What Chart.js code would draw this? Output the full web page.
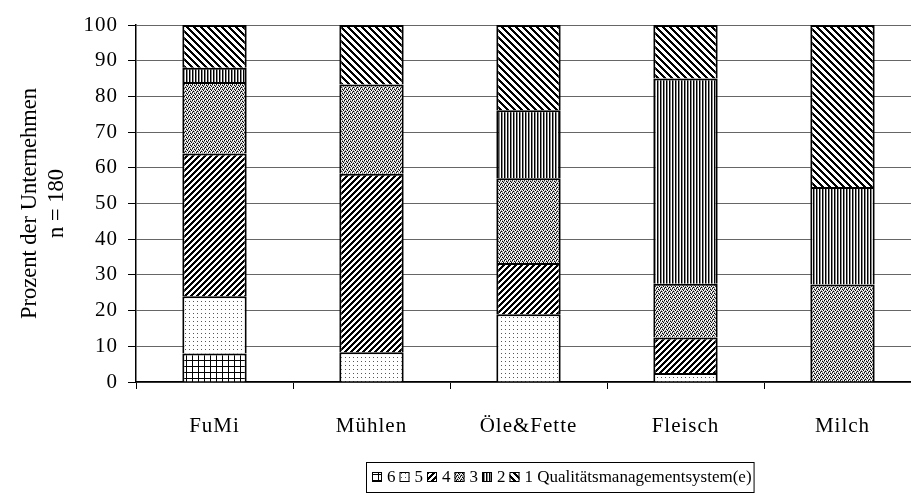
<!DOCTYPE html>
<html>
<head>
<meta charset="utf-8">
<script src="https://cdn.jsdelivr.net/npm/chart.js@4.4.0/dist/chart.umd.min.js"></script>
<style>
  html, body { margin: 0; padding: 0; background: #fff; overflow: hidden; }
  #wrap { width: 911px; height: 503px; overflow: hidden; }
</style>
</head>
<body>
<div id="wrap"><canvas id="qmChart" width="930" height="503"></canvas></div>
<script>
// Branchen
var branchen = ["FuMi", "Mühlen", "Öle&Fette", "Fleisch", "Milch"];
// Prozent der Unternehmen nach Anzahl Qualitätsmanagementsysteme
var qm6 = [8, 0, 0, 0, 0];
var qm5 = [16, 8.3, 19.0, 2.5, 0];
var qm4 = [40, 50, 14.3, 10, 0];
var qm3 = [20, 25, 23.8, 15, 27.3];
var qm2 = [4, 0, 19.0, 57.5, 27.3];
var qm1 = [12, 16.7, 23.9, 15, 45.4];
var legendLabels = ["6", "5", "4", "3", "2", "1 Qualitätsmanagementsystem(e)"];
var yTicks = [0, 10, 20, 30, 40, 50, 60, 70, 80, 90, 100];

var FONT = "'Liberation Serif', 'Times New Roman', serif";

var chartArea = document.getElementById("qmChart").getContext("2d");

// kleine Muster-Kacheln wie bei Excel
function makePattern(w, h, draw) {
  var c = document.createElement("canvas");
  c.width = w;
  c.height = h;
  var g = c.getContext("2d");
  g.fillStyle = "#fff";
  g.fillRect(0, 0, w, h);
  draw(g);
  return chartArea.createPattern(c, "repeat");
}

function px(g, x, y, col) {
  g.fillStyle = col;
  g.fillRect(x, y, 1, 1);
}

// 6: Gitter
var pat6 = makePattern(6, 6, function (g) {
  g.fillStyle = "#000";
  g.fillRect(0, 0, 6, 1);
  g.fillRect(0, 0, 1, 6);
});
// 5: lockere Punkte
var pat5 = makePattern(4, 4, function (g) {
  px(g, 1, 1, "#555");
});
// 4: dichte Diagonale /
var pat4 = makePattern(6, 6, function (g) {
  for (var x = 0; x < 6; x++) {
    for (var t = 0; t < 3; t++) {
      px(g, x, (5 - x + t) % 6, "#000");
    }
  }
});
// 3: graue Sprenkel
var pat3 = makePattern(4, 4, function (g) {
  var rows = ["kwgw", "gwkg", "wgwk", "gkgw"];
  for (var y = 0; y < 4; y++) {
    for (var x = 0; x < 4; x++) {
      var ch = rows[y][x];
      px(g, x, y, ch === "k" ? "#000" : ch === "g" ? "#999" : "#fff");
    }
  }
});
// 2: senkrechte Linien
var pat2 = makePattern(3, 1, function (g) {
  px(g, 0, 0, "#000");
  px(g, 1, 0, "#888");
});
// 1: Diagonale \
var pat1 = makePattern(7, 7, function (g) {
  for (var x = 0; x < 7; x++) {
    for (var t = 0; t < 3; t++) {
      px(g, x, (x + t) % 7, "#000");
    }
  }
});

var patterns = [pat6, pat5, pat4, pat3, pat2, pat1];
var series = [qm6, qm5, qm4, qm3, qm2, qm1];

var datasets = [];
for (var i = 0; i < series.length; i++) {
  datasets.push({
    label: legendLabels[i],
    data: series[i].map(function (v) { return v === 0 ? null : v; }),
    backgroundColor: patterns[i],
    borderColor: "#000",
    borderWidth: 2,
    barPercentage: 0.41,
    categoryPercentage: 1.0,
  });
}

// Achsenbeschriftung leicht gesperrt (wie im Original), Titel nicht
var spacing = {
  id: "spacing",
  beforeDraw: function (chart) {
    chart.ctx.letterSpacing = "0px";
  },
  afterDatasetsDraw: function (chart) {
    chart.ctx.letterSpacing = "1px";
  },
};

// Legende mit Rahmen unten
var boxLegend = {
  id: "boxLegend",
  afterDraw: function (chart) {
    var ctx = chart.ctx;
    ctx.letterSpacing = "0px";
    ctx.save();
    ctx.font = "17px " + FONT;
    ctx.textBaseline = "middle";
    var left = 366, top = 462, h = 30;
    var x = left + 6;
    var cy = top + h / 2;
    var sw = 10;
    for (var i = 0; i < chart.data.datasets.length; i++) {
      var ds = chart.data.datasets[i];
      ctx.fillStyle = ds.backgroundColor;
      ctx.fillRect(x, cy - sw / 2, sw, sw);
      ctx.strokeStyle = "#000";
      ctx.lineWidth = 1;
      ctx.strokeRect(x + 0.5, cy - sw / 2 + 0.5, sw - 1, sw - 1);
      x += sw + 5;
      ctx.fillStyle = "#000";
      ctx.fillText(ds.label, x, cy + 1);
      x += ctx.measureText(ds.label).width + 4;
    }
    ctx.strokeStyle = "#000";
    ctx.lineWidth = 1;
    ctx.strokeRect(left + 0.5, top + 0.5, x - left - 2, h);
    ctx.restore();
  },
};

var myChart = new Chart(chartArea, {
  type: "bar",
  data: {
    labels: branchen,
    datasets: datasets,
  },
  options: {
    responsive: false,
    animation: false,
    layout: {
      padding: { top: 25, right: 9, bottom: 0, left: 0 },
    },
    plugins: {
      legend: { display: false },
      tooltip: { enabled: false },
    },
    scales: {
      x: {
        stacked: true,
        afterFit: function (s) { s.height = 121; },
        grid: {
          drawOnChartArea: false,
          drawTicks: true,
          tickLength: 7,
          tickColor: "#000",
        },
        border: { color: "#000", width: 1.5 },
        ticks: {
          z: 1,
          color: "#000",
          font: { family: FONT, size: 21 },
          padding: 25,
          maxRotation: 0,
          autoSkip: false,
        },
      },
      y: {
        stacked: true,
        min: 0,
        max: 100,
        afterFit: function (s) { s.width = 136; },
        afterBuildTicks: function (s) {
          s.ticks = yTicks.map(function (v) { return { value: v }; });
        },
        grid: {
          color: "#666",
          lineWidth: 1,
          tickLength: 8,
          tickColor: "#000",
        },
        border: { color: "#000", width: 1.5 },
        ticks: {
          z: 1,
          color: "#000",
          font: { family: FONT, size: 21 },
          padding: 10,
        },
        title: {
          display: true,
          text: ["Prozent der Unternehmen", "n = 180"],
          color: "#000",
          font: { family: FONT, size: 22.5, lineHeight: 1.2 },
          padding: { top: 16.5, bottom: 0 },
        },
      },
    },
  },
  plugins: [spacing, boxLegend],
});
</script>
</body>
</html>
